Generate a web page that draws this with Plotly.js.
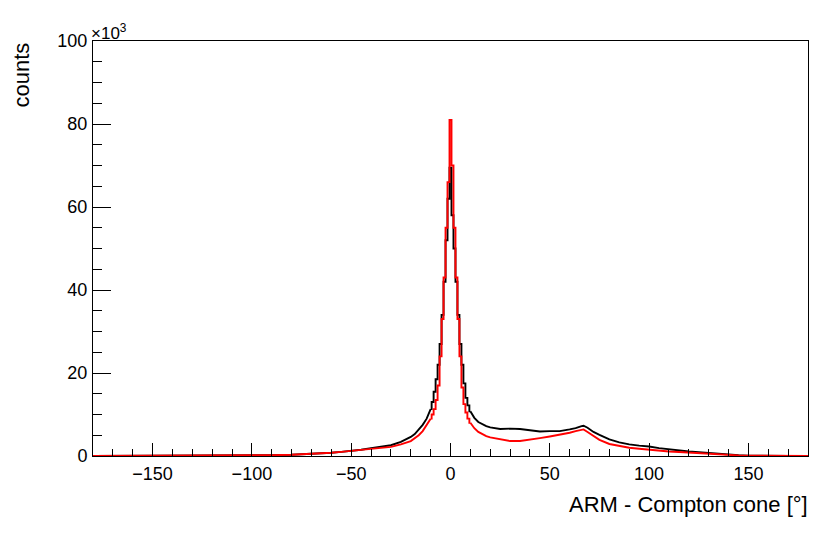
<!DOCTYPE html>
<html>
<head>
<meta charset="utf-8">
<script src="https://cdn.plot.ly/plotly-3.0.1.min.js"></script>
<style>html,body{margin:0;padding:0;background:#fff;}#chart{width:830px;height:534px;}</style>
</head>
<body>
<div id="chart"></div>
<script>
// ARM angle (degrees), sample/bin centres
const armDeg = [-180,-160,-140,-120,-110,-100,-90,-80,-70,-60,-55,-50,-45,-40,-35,-30,-25,-20,-18,-16,-14,-12,-11,-10,-9,-8,-7,-6,-5,-4,-3,-2,-1,0,1,2,3,4,5,6,7,8,9,10,12,14,16,18,20,25,30,35,40,45,50,55,60,63,66,67,69,72,75,80,85,90,95,100,105,110,115,120,125,130,135,140,145,150,155,160,170,180];
// counts in units of 10^3 (black histogram)
const blackCountsK = [0,0.01,0.02,0.05,0.08,0.12,0.2,0.3,0.5,0.8,1.0,1.2,1.5,1.9,2.2,2.6,3.4,4.6,5.3,6.3,7.5,9.0,10.0,11.3,13.0,15.5,18.5,22,27,34,42,52,62,69.5,58,50,42,34,27,22,17.5,14.0,12.2,10.8,9.2,8.2,7.6,7.2,6.9,6.5,6.6,6.5,6.2,5.9,6.0,6.0,6.4,6.7,7.2,7.3,6.8,5.8,5.1,4.0,3.3,2.8,2.5,2.3,1.9,1.6,1.35,1.1,0.9,0.7,0.5,0.35,0.2,0.1,0.04,0.01,0,0];
// counts in units of 10^3 (red histogram)
const redCountsK = [0,0.01,0.02,0.05,0.08,0.12,0.2,0.3,0.5,0.8,1.0,1.2,1.45,1.7,1.95,2.2,2.8,3.6,4.2,5.0,6.0,7.5,8.2,9.0,10.0,11.3,13.5,17,24,33,43,55,66,81,70,55,43,33,24,16.5,12.5,10.5,9.0,8.0,6.7,5.8,5.2,4.8,4.5,4.0,3.6,3.6,3.9,4.3,4.7,5.1,5.6,6.0,6.4,6.4,5.8,4.8,3.9,2.9,2.4,2.0,1.75,1.5,1.3,1.1,0.95,0.8,0.6,0.45,0.35,0.25,0.15,0.07,0.03,0.01,0,0];
const xTickVals = [-150,-100,-50,0,50,100,150];
const yTickVals = [0,20,40,60,80,100];
const coreHalfWidth = 10; // degrees: finely binned core drawn as steps

const FONT = '"Liberation Sans", Arial, Helvetica, sans-serif';

function part(xs, ys, test) {
  const px = [], py = [];
  xs.forEach((v, i) => { if (test(v)) { px.push(v); py.push(ys[i]); } });
  return {x: px, y: py};
}
function makeTraces(ys, color) {
  const out = [];
  const left = part(armDeg, ys, v => v <= -coreHalfWidth);
  const core = part(armDeg, ys, v => Math.abs(v) <= coreHalfWidth);
  const right = part(armDeg, ys, v => v >= coreHalfWidth);
  [left, right].forEach(p => out.push({x: p.x, y: p.y, type: 'scatter', mode: 'lines',
    line: {color: color, width: 1.9, shape: 'linear'}, hoverinfo: 'x+y'}));
  out.push({x: core.x, y: core.y, type: 'scatter', mode: 'lines',
    line: {color: color, width: 1.9, shape: 'hvh'}, hoverinfo: 'x+y'});
  return out;
}

const traces = makeTraces(blackCountsK, '#000000').concat(makeTraces(redCountsK, '#ff0000'));

const layout = {
  width: 830, height: 534,
  margin: {l: 93, r: 22, t: 41, b: 78, pad: 0},
  paper_bgcolor: '#ffffff', plot_bgcolor: '#ffffff',
  showlegend: false,
  font: {family: FONT, color: '#000', size: 18},
  xaxis: {
    range: [-180, 180], showgrid: false, zeroline: false,
    showline: true, linecolor: '#000', linewidth: 1, mirror: true,
    ticks: 'inside', ticklen: 13, tickwidth: 1, tickcolor: '#000',
    tickvals: xTickVals, ticklabelstandoff: 1,
    minor: {dtick: 10, ticks: 'inside', ticklen: 7, tickwidth: 1, tickcolor: '#000', showgrid: false},
    tickfont: {family: FONT, size: 18, color: '#000'}
  },
  yaxis: {
    range: [0, 100], showgrid: false, zeroline: false,
    showline: true, linecolor: '#000', linewidth: 1, mirror: true,
    ticks: 'inside', ticklen: 18, tickwidth: 1, tickcolor: '#000',
    tickvals: yTickVals, ticklabelstandoff: 1,
    minor: {dtick: 5, ticks: 'inside', ticklen: 9, tickwidth: 1, tickcolor: '#000', showgrid: false},
    tickfont: {family: FONT, size: 18, color: '#000'}
  },
  annotations: [
    {text: '×10<sup>3</sup>', xref: 'paper', yref: 'paper', x: 0, y: 1,
     xanchor: 'left', yanchor: 'bottom', showarrow: false,
     font: {family: FONT, size: 17, color: '#000'}, xshift: -4, yshift: -4},
    {text: 'counts', xref: 'paper', yref: 'paper', x: 0, y: 1,
     xanchor: 'center', yanchor: 'top', textangle: -90, showarrow: false,
     font: {family: FONT, size: 22, color: '#000'}, xshift: -72, yshift: 0},
    {text: 'ARM - Compton cone [°]', xref: 'paper', yref: 'paper', x: 1, y: 0,
     xanchor: 'right', yanchor: 'top', showarrow: false,
     font: {family: FONT, size: 22, color: '#000'}, xshift: 2, yshift: -34}
  ]
};

Plotly.newPlot('chart', traces, layout, {displayModeBar: false, staticPlot: true});
</script>
</body>
</html>
